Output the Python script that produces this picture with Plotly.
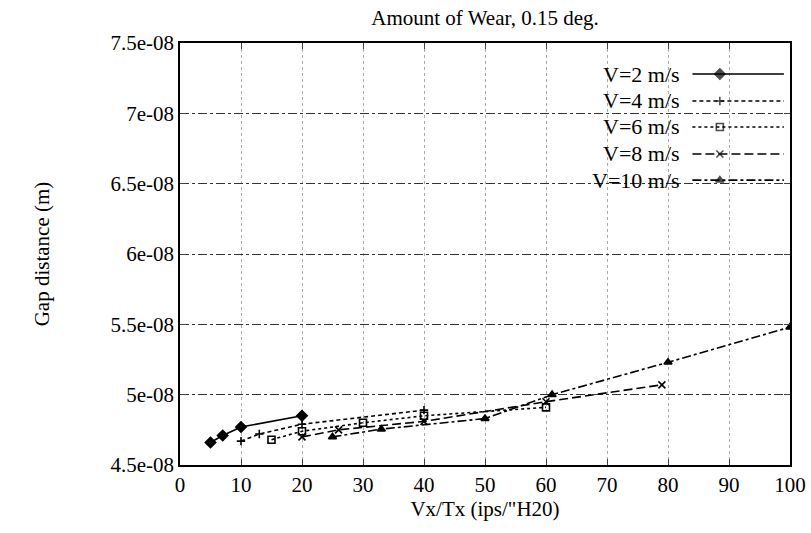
import plotly.graph_objects as go

# ---- data ----
v2_x = [5, 7, 10, 20]
v2_y = [4.66e-8, 4.71e-8, 4.77e-8, 4.85e-8]

v4_x = [10, 13, 20, 40]
v4_y = [4.67e-8, 4.72e-8, 4.79e-8, 4.89e-8]

v6_x = [15, 20, 30, 40, 60]
v6_y = [4.68e-8, 4.74e-8, 4.80e-8, 4.85e-8, 4.91e-8]

v8_x = [20, 26, 40, 60, 79]
v8_y = [4.70e-8, 4.75e-8, 4.81e-8, 4.95e-8, 5.07e-8]

v10_x = [25, 33, 50, 61, 80, 100]
v10_y = [4.70e-8, 4.755e-8, 4.83e-8, 5.00e-8, 5.23e-8, 5.48e-8]

series_names = ["V=2 m/s", "V=4 m/s", "V=6 m/s", "V=8 m/s", "V=10 m/s"]
x_ticks = [0, 10, 20, 30, 40, 50, 60, 70, 80, 90, 100]
y_ticks = [4.5e-8, 5e-8, 5.5e-8, 6e-8, 6.5e-8, 7e-8, 7.5e-8]
y_tick_labels = ["4.5e-08", "5e-08", "5.5e-08", "6e-08", "6.5e-08", "7e-08", "7.5e-08"]

FONT = "Liberation Serif"
styles = [
    dict(dash="solid", symbol="diamond", size=8),
    dict(dash="4px,3px", symbol="cross-thin-open", size=6),
    dict(dash="dot", symbol="square-open", size=7),
    dict(dash="9px,4px", symbol="x-thin-open", size=7),
    dict(dash="dashdot", symbol="triangle-up", size=7),
]
data = [(v2_x, v2_y), (v4_x, v4_y), (v6_x, v6_y), (v8_x, v8_y), (v10_x, v10_y)]

fig = go.Figure()
for (xs, ys), st, nm in zip(data, styles, series_names):
    fig.add_trace(go.Scatter(
        x=xs, y=ys, mode="lines+markers", name=nm, showlegend=False,
        line=dict(color="black", width=1.6, dash=st["dash"]),
        marker=dict(symbol=st["symbol"], size=st["size"], color="black",
                    line=dict(color="black", width=1.6)),
    ))

# manual legend (text left of sample, as in the reference)
leg_y = [0.9265, 0.8626, 0.801, 0.737, 0.675]
for ly, st, nm in zip(leg_y, styles, series_names):
    fig.add_trace(go.Scatter(
        x=[0.84, 0.885, 0.99], y=[ly, ly, ly], xaxis="x2", yaxis="y2",
        mode="lines+markers", showlegend=False, hoverinfo="skip",
        line=dict(color="black", width=1.6, dash=st["dash"]),
        marker=dict(symbol=st["symbol"], size=[0, st["size"], 0], color="black",
                    line=dict(color="black", width=1.6)),
    ))
    fig.add_annotation(x=0.823, y=ly, xref="paper", yref="paper", text=nm,
                       showarrow=False, xanchor="right", yanchor="middle",
                       font=dict(family=FONT, size=22, color="black"))

fig.update_layout(
    width=811, height=533,
    margin=dict(l=180, r=21, t=43, b=68),
    paper_bgcolor="white", plot_bgcolor="white",
    font=dict(family=FONT, size=21, color="black"),
    title=dict(text="Amount of Wear, 0.15 deg.", x=0.598, xanchor="center",
               y=0.966, yanchor="middle", font=dict(family=FONT, size=21)),
    xaxis=dict(range=[0, 100], tickvals=x_ticks, ticks="inside", ticklen=6,
               mirror="ticks", showline=True, linecolor="black", linewidth=1.6,
               showgrid=True, gridcolor="#aaaaaa", griddash="dot", gridwidth=1,
               zeroline=False, automargin=False,
               title=dict(text="Vx/Tx (ips/\"H20)", standoff=0, font=dict(size=21))),
    yaxis=dict(range=[4.5e-8, 7.5e-8], tickvals=y_ticks, ticktext=y_tick_labels,
               ticks="inside", ticklen=6, mirror="ticks", showline=True,
               linecolor="black", linewidth=1.6, showgrid=True, gridcolor="#333333",
               griddash="dashdot", gridwidth=1, zeroline=False, automargin=False,
               title=dict(text="Gap distance (m)", standoff=55, font=dict(size=21))),
    xaxis2=dict(overlaying="x", range=[0, 1], visible=False),
    yaxis2=dict(overlaying="y", range=[0, 1], visible=False),
)

fig.write_html("out.html", config={"displayModeBar": False},
               post_script="document.body.style.margin='0';")
